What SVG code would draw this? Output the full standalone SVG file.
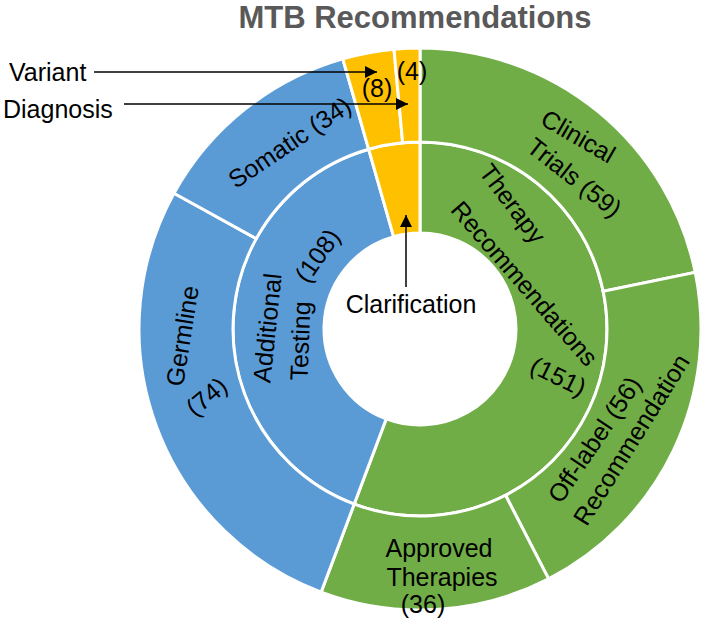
<svg xmlns="http://www.w3.org/2000/svg" width="709" height="622" viewBox="0 0 709 622">
<style>
.w{stroke:#fff;stroke-width:3;stroke-linejoin:miter}
.g{fill:#70AD47}.b{fill:#5B9BD5}.y{fill:#FFC000}
text{font-family:"Liberation Sans",Arial,sans-serif;font-size:25px;fill:#000}
.t{font-size:31px;font-weight:bold;fill:#595959}
.c{stroke:#000;stroke-width:1.5;fill:none}
</style>
<defs>
<marker id="ah" viewBox="0 0 12 12" refX="12" refY="6" markerWidth="12" markerHeight="12" markerUnits="userSpaceOnUse" orient="auto">
<path d="M0,0 L12,6 L0,12 Z" fill="#000"/>
</marker>
</defs>
<rect width="709" height="622" fill="#fff"/>
<text class="t" x="415" y="28" text-anchor="middle">MTB Recommendations</text>

<g id="therapy-recommendations">
<path class="g w" d="M420,142 A187,187 0 1 1 354.23,504.05 L386.24,418.87 A96,96 0 1 0 420,233 Z"/>
<text transform="translate(512,204) rotate(53)" text-anchor="middle" dy="8">Therapy</text>
<text transform="translate(524,284) rotate(49)" text-anchor="middle" dy="8">Recommendations</text>
<text transform="translate(558,377) rotate(26)" text-anchor="middle" dy="8">(151)</text>
</g>
<g id="additional-testing">
<path class="b w" d="M354.23,504.05 A187,187 0 0 1 368.64,149.19 L393.63,236.69 A96,96 0 0 0 386.24,418.87 Z"/>
<text transform="translate(268,328) rotate(-84)" text-anchor="middle" dy="8">Additional</text>
<text transform="translate(301,341) rotate(-88)" text-anchor="middle" dy="8">Testing</text>
<text transform="translate(318,256) rotate(-55)" text-anchor="middle" dy="8">(108)</text>
</g>
<g id="clarification">
<path class="y w" d="M368.64,149.19 A187,187 0 0 1 420,142 L420,233 A96,96 0 0 0 393.63,236.69 Z"/>
<text x="411" y="313" text-anchor="middle">Clarification</text>
</g>
<g id="clinical-trials">
<path class="g w" d="M420,48 A281,281 0 0 1 695.24,272.38 L603.16,291.32 A187,187 0 0 0 420,142 Z"/>
<text transform="translate(578,137) rotate(30)" text-anchor="middle" dy="8">Clinical</text>
<text transform="translate(574,178) rotate(38)" text-anchor="middle" dy="8">Trials (59)</text>
</g>
<g id="off-label">
<path class="g w" d="M695.24,272.38 A281,281 0 0 1 548.59,578.85 L505.58,495.27 A187,187 0 0 0 603.16,291.32 Z"/>
<text transform="translate(595,440) rotate(-56)" text-anchor="middle" dy="8">Off-label (56)</text>
<text transform="translate(632,440) rotate(-58)" text-anchor="middle" dy="8">Recommendation</text>
</g>
<g id="approved-therapies">
<path class="g w" d="M548.59,578.85 A281,281 0 0 1 321.18,592.05 L354.23,504.05 A187,187 0 0 0 505.58,495.27 Z"/>
<text x="439" y="557" text-anchor="middle">Approved</text>
<text x="442" y="586" text-anchor="middle">Therapies</text>
<text x="423" y="613" text-anchor="middle">(36)</text>
</g>
<g id="germline">
<path class="b w" d="M321.18,592.05 A281,281 0 0 1 173.98,193.23 L256.28,238.65 A187,187 0 0 0 354.23,504.05 Z"/>
<text transform="translate(183,336) rotate(-81)" text-anchor="middle" dy="8">Germline</text>
<text transform="translate(207,397) rotate(-40)" text-anchor="middle" dy="8">(74)</text>
</g>
<g id="somatic">
<path class="b w" d="M173.98,193.23 A281,281 0 0 1 342.82,58.81 L368.64,149.19 A187,187 0 0 0 256.28,238.65 Z"/>
<text transform="translate(290,143) rotate(-34)" text-anchor="middle" dy="8">Somatic (34)</text>
</g>
<g id="variant">
<path class="y w" d="M342.82,58.81 A281,281 0 0 1 393.98,49.21 L402.68,142.80 A187,187 0 0 0 368.64,149.19 Z"/>
<text x="377" y="97" text-anchor="middle">(8)</text>
<text x="9" y="81">Variant</text>
</g>
<g id="diagnosis">
<path class="y w" d="M393.98,49.21 A281,281 0 0 1 420,48 L420,142 A187,187 0 0 0 402.68,142.80 Z"/>
<text x="412" y="80" text-anchor="middle">(4)</text>
<text x="3" y="118">Diagnosis</text>
</g>

<g id="connectors">
<line class="c" x1="94" y1="72" x2="377" y2="72" marker-end="url(#ah)"/>
<line class="c" x1="124" y1="104" x2="408" y2="104" marker-end="url(#ah)"/>
<line class="c" x1="406" y1="287" x2="406" y2="215" marker-end="url(#ah)"/>
</g>
</svg>
